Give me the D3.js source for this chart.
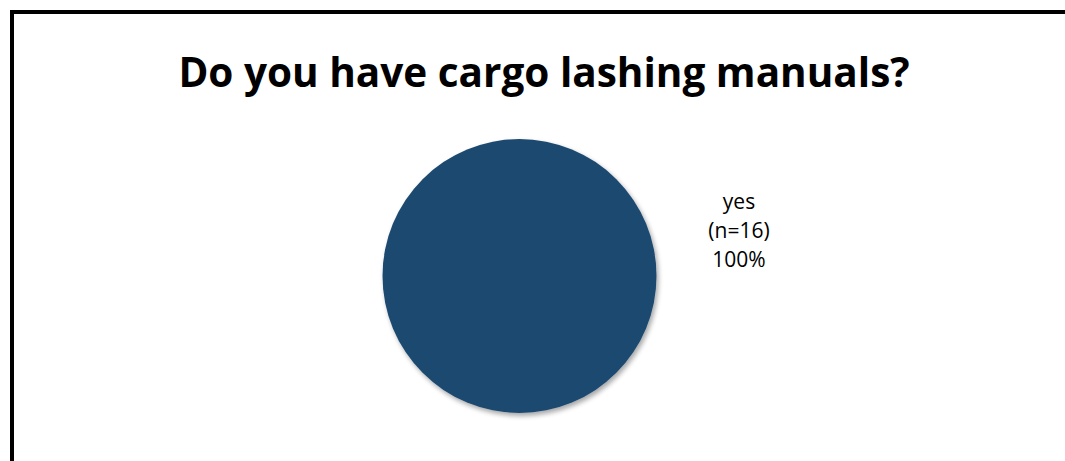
<!DOCTYPE html>
<html>
<head>
<meta charset="utf-8">
<script src="https://cdn.jsdelivr.net/npm/d3@7/dist/d3.min.js"></script>
<style>
  html, body { margin: 0; padding: 0; background: #fff; }
  svg { display: block; }
</style>
</head>
<body>
<svg id="chart" width="1065" height="461"></svg>
<script>
// Survey answers
const title = "Do you have cargo lashing manuals?";
const categories = ["yes"];
const counts = [16];
const colors = ["#1F4970"];

const svg = d3.select("#chart");
const W = 1065, H = 461;

// Chart frame (runs past the right and bottom edges)
svg.append("rect")
  .attr("x", 12).attr("y", 12)
  .attr("width", W + 20).attr("height", H + 20)
  .attr("fill", "#fff")
  .attr("stroke", "#000")
  .attr("stroke-width", 4);

// Title
svg.append("text")
  .attr("x", 544).attr("y", 87)
  .attr("text-anchor", "middle")
  .attr("font-family", "'Open Sans', 'Liberation Sans', sans-serif")
  .attr("font-weight", "bold")
  .attr("font-size", 40.5)
  .attr("fill", "#000")
  .text(title);

// Soft drop shadow under the pie
const defs = svg.append("defs");
const f = defs.append("filter").attr("id", "shadow")
  .attr("x", "-20%").attr("y", "-20%").attr("width", "140%").attr("height", "140%");
f.append("feGaussianBlur").attr("in", "SourceAlpha").attr("stdDeviation", 2.5).attr("result", "b");
f.append("feOffset").attr("in", "b").attr("dx", 2).attr("dy", 3).attr("result", "o");
f.append("feComponentTransfer").attr("in", "o").attr("result", "s")
  .append("feFuncA").attr("type", "linear").attr("slope", 0.35);
const merge = f.append("feMerge");
merge.append("feMergeNode").attr("in", "s");
merge.append("feMergeNode").attr("in", "SourceGraphic");

const cx = 519.5, cy = 276, r = 137;
const total = d3.sum(counts);
const data = categories.map((c, i) => ({ category: c, count: counts[i], color: colors[i] }));

const pie = d3.pie().value(d => d.count).sort(null);
const arc = d3.arc().innerRadius(0).outerRadius(r);

const g = svg.append("g").attr("transform", `translate(${cx},${cy})`);
g.selectAll("path")
  .data(pie(data))
  .join("path")
  .attr("d", arc)
  .attr("fill", d => d.data.color)
  .attr("filter", "url(#shadow)");

// Data labels, placed to the right of the pie
const labels = svg.append("g");
pie(data).forEach(d => {
  const pct = d3.format(".0%")(d.data.count / total);
  const lines = [d.data.category, `(n=${d.data.count})`, pct];
  const t = labels.append("text")
    .attr("text-anchor", "middle")
    .attr("font-family", "'Open Sans', 'Liberation Sans', sans-serif")
    .attr("font-size", 21)
    .attr("fill", "#000");
  lines.forEach((s, i) => {
    t.append("tspan").attr("x", 739).attr("y", 209 + i * 29).text(s);
  });
});
</script>
</body>
</html>
